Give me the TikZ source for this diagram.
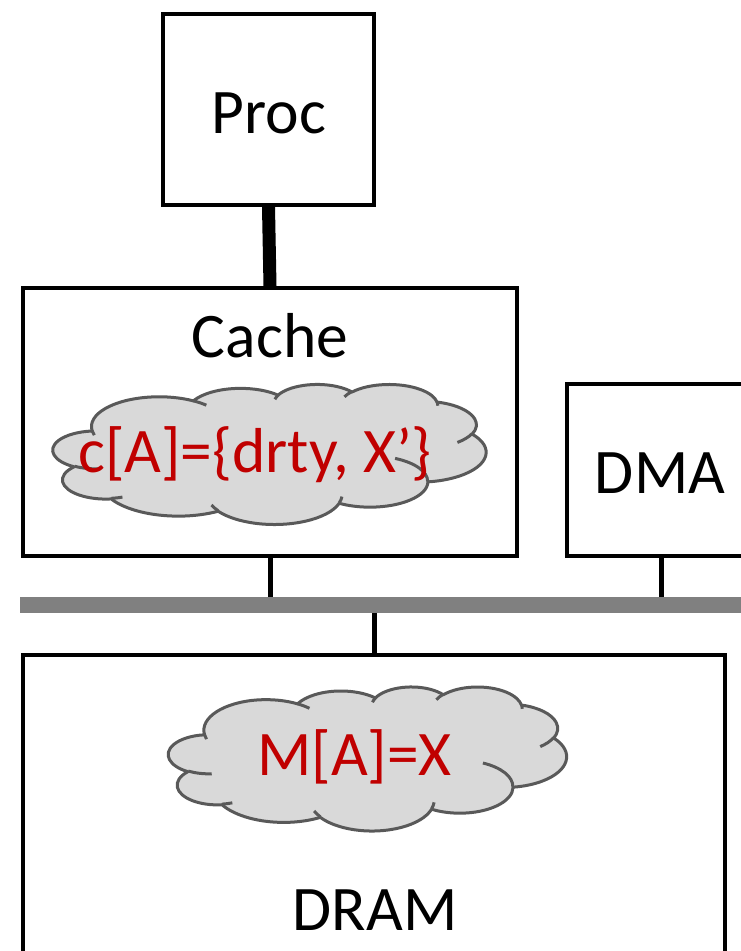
\documentclass[tikz,border=0pt]{standalone}
\usepackage{fontspec}
\setmainfont{Carlito}
\definecolor{darkred}{HTML}{C00000}
\definecolor{cloudgray}{HTML}{595959}
\definecolor{cloudfill}{HTML}{D9D9D9}
\definecolor{busgray}{HTML}{808080}
\newcommand{\pptcloudpath}{%
 (39.00,143.70)
 arc[start angle=-187.75, end angle=-59.64, x radius=67.53pt, y radius=91.90pt]
 arc[start angle=-152.02, end angle=-45.45, x radius=53.33pt, y radius=72.67pt]
 arc[start angle=-153.49, end angle=-37.34, x radius=43.65pt, y radius=59.45pt]
 arc[start angle=-139.72, end angle=-10.22, x radius=48.57pt, y radius=65.95pt]
 arc[start angle=-74.77, end angle=23.21, x radius=53.33pt, y radius=72.73pt]
 arc[start angle=-37.53, end angle=81.86, x radius=67.75pt, y radius=92.20pt]
 arc[start angle=0.46, end angle=121.98, x radius=57.85pt, y radius=78.67pt]
 arc[start angle=16.84, end angle=146.22, x radius=67.52pt, y radius=92.15pt]
 arc[start angle=58.98, end angle=150.19, x radius=77.20pt, y radius=105.43pt]
 arc[start angle=-276.69, end angle=-136.89, x radius=43.60pt, y radius=59.18pt]
 arc[start angle=-239.64, end angle=-95.89, x radius=43.45pt, y radius=59.45pt]
 -- cycle}
\newcommand{\pptcloudinner}{%
 (46.93,261.77) arc[start angle=85.54, end angle=120.36, x radius=43.45pt, y radius=59.45pt]
 (69.28,348.99) arc[start angle=68.23, end angle=83.31, x radius=43.60pt, y radius=59.18pt]
 (164.78,390.90) arc[start angle=146.22, end angle=158.47, x radius=67.52pt, y radius=92.15pt]
 (288.27,347.51) arc[start angle=4.73, end angle=16.84, x radius=67.52pt, y radius=92.15pt]
 (341.29,229.54) arc[start angle=-64.03, end angle=0.46, x radius=57.85pt, y radius=78.67pt]
 (417.98,153.54) arc[start angle=23.21, end angle=49.65, x radius=53.33pt, y radius=72.73pt]
 (383.24,54.26) arc[start angle=-10.22, end angle=0.83, x radius=48.57pt, y radius=65.95pt]
 (290.78,39.52) arc[start angle=-156.29, end angle=-139.72, x radius=48.57pt, y radius=65.95pt]
 (221.41,47.20) arc[start angle=-167.72, end angle=-153.49, x radius=43.65pt, y radius=59.45pt]
 (140.00,51.92) arc[start angle=-59.64, end angle=-45.73, x radius=67.53pt, y radius=91.90pt]
 (41.27,157.89) arc[start angle=163.19, end angle=172.25, x radius=67.53pt, y radius=91.90pt]}
\tikzset{
 box/.style={draw=black, line width=4pt, fill=white, inner sep=0pt},
 lbl/.style={font=\fontsize{63.5}{70}\selectfont, anchor=base, inner sep=0pt},
 redlbl/.style={lbl, text=darkred},
 cloudshape/.style={draw=cloudgray, fill=cloudfill, line width=3pt, line join=round},
 cloudline/.style={draw=cloudgray, line width=3pt},
 bus/.style={draw=busgray, line width=16pt},
 thinlink/.style={draw=black, line width=5pt},
 thicklink/.style={draw=black, line width=13pt},
}
\begin{document}
\begin{tikzpicture}[x=1pt,y=1pt]
\useasboundingbox (0,0) rectangle (741,-951);
\clip (0,0) rectangle (741,-951);
% boxes
\node[box, minimum width=211pt, minimum height=191pt] (proc) at (268.5,-109.5) {};
\node[box, minimum width=494pt, minimum height=268pt] (cache) at (270,-422) {};
\node[box, minimum width=188pt, minimum height=172pt] (dma) at (661,-470) {};
\node[box, minimum width=702pt, minimum height=400pt] (dram) at (374,-854.5) {};
% bus end points
\coordinate (busL) at (20,-605);
\coordinate (busR) at (760,-605);
% connectors
\draw[thicklink] (proc.south) -- (cache.north);
\draw[thinlink] (cache.south) -- (cache.south |- busL);
\draw[thinlink] (dma.south) -- (dma.south |- busL);
\draw[thinlink] (dram.north) -- (dram.north |- busL);
\draw[bus] (busL) -- (busR);
% clouds
\begin{scope}[shift={(53,-384)}, xscale=433/432, yscale=-140/432]
 \path[cloudshape] \pptcloudpath;
 \path[cloudline] \pptcloudinner;
\end{scope}
\begin{scope}[shift={(168.5,-686.5)}, xscale=398/432, yscale=-144/432]
 \path[cloudshape] \pptcloudpath;
 \path[cloudline] \pptcloudinner;
\end{scope}
% texts
\node[lbl] (proctext) at (269,-133) {Proc};
\node[lbl] (cachetext) at (270,-357) {Cache};
\node[lbl] (dmatext) at (660,-493) {DMA};
\node[lbl] (dramtext) at (375,-930) {DRAM};
\node[redlbl] (ctext) at (255,-472) {c[A]=\{drty, X’\}};
\node[redlbl] (mtext) at (354.5,-775) {M[A]=X};
\end{tikzpicture}
\end{document}
